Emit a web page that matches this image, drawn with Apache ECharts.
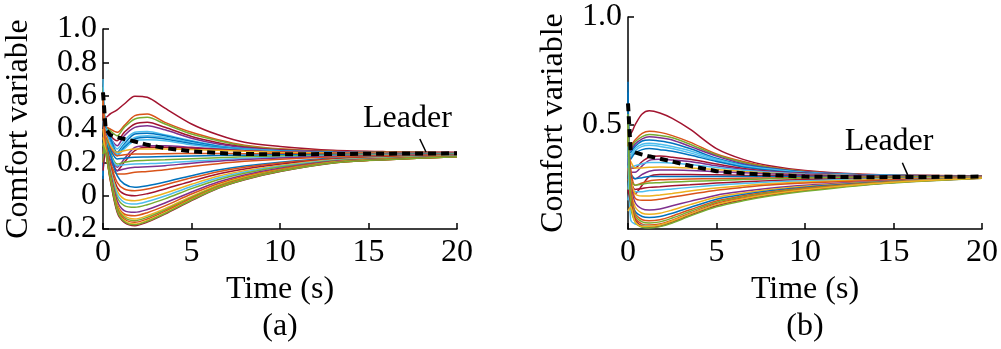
<!DOCTYPE html>
<html><head><meta charset="utf-8">
<script src="https://cdn.jsdelivr.net/npm/echarts@6/dist/echarts.min.js"></script>
<style>html,body{margin:0;padding:0;background:#fff}#c{width:1001px;height:349px}</style>
</head><body><div id="c"></div>
<script>
// time samples (s), shared by both panels
const timeGrid = [0, 0.15, 0.4, 0.8, 1.2, 1.8, 2.5, 3.5, 5, 6.5, 8, 10, 13, 16, 20];

// ---- panel (a) ----
const leaderA = [0.62, 0.40, 0.365, 0.35, 0.34, 0.325, 0.305, 0.285, 0.266, 0.256, 0.25, 0.248, 0.25, 0.252, 0.254];
const followersA = [
  [0.47, 0.47, 0.49, 0.515, 0.55, 0.597, 0.59, 0.525, 0.43, 0.365, 0.32, 0.295, 0.272, 0.264, 0.26],
  [0.60, 0.42, 0.40, 0.38, 0.42, 0.48, 0.49, 0.44, 0.38, 0.336, 0.303, 0.281, 0.267, 0.261, 0.257],
  [0.65, 0.41, 0.39, 0.36, 0.41, 0.46, 0.47, 0.43, 0.37, 0.33, 0.298, 0.279, 0.265, 0.26, 0.257],
  [0.55, 0.40, 0.36, 0.33, 0.38, 0.43, 0.44, 0.41, 0.355, 0.318, 0.292, 0.275, 0.263, 0.259, 0.256],
  [0.50, 0.40, 0.35, 0.30, 0.36, 0.41, 0.42, 0.395, 0.345, 0.31, 0.288, 0.272, 0.262, 0.258, 0.256],
  [0.70, 0.42, 0.36, 0.28, 0.33, 0.38, 0.385, 0.365, 0.33, 0.30, 0.282, 0.27, 0.261, 0.258, 0.256],
  [0.62, 0.41, 0.35, 0.26, 0.31, 0.37, 0.375, 0.36, 0.325, 0.297, 0.28, 0.268, 0.26, 0.257, 0.255],
  [0.40, 0.40, 0.33, 0.25, 0.30, 0.35, 0.36, 0.35, 0.318, 0.293, 0.278, 0.267, 0.259, 0.257, 0.255],
  [0.30, 0.39, 0.33, 0.24, 0.29, 0.34, 0.35, 0.34, 0.312, 0.29, 0.276, 0.266, 0.259, 0.256, 0.255],
  [0.20, 0.38, 0.32, 0.24, 0.28, 0.33, 0.335, 0.33, 0.305, 0.286, 0.274, 0.265, 0.258, 0.256, 0.255],
  [0.35, 0.37, 0.27, 0.17, 0.22, 0.29, 0.30, 0.30, 0.29, 0.28, 0.27, 0.263, 0.257, 0.255, 0.254],
  [0.45, 0.36, 0.26, 0.15, 0.20, 0.27, 0.29, 0.29, 0.285, 0.277, 0.269, 0.262, 0.257, 0.255, 0.254],
  [0.30, 0.36, 0.30, 0.26, 0.27, 0.28, 0.28, 0.28, 0.277, 0.272, 0.266, 0.261, 0.256, 0.254, 0.253],
  [0.25, 0.35, 0.29, 0.24, 0.245, 0.25, 0.25, 0.252, 0.253, 0.253, 0.252, 0.252, 0.251, 0.25, 0.25],
  [0.15, 0.34, 0.28, 0.22, 0.225, 0.23, 0.232, 0.235, 0.238, 0.241, 0.243, 0.245, 0.247, 0.249, 0.25],
  [0.30, 0.34, 0.26, 0.19, 0.20, 0.21, 0.212, 0.215, 0.222, 0.228, 0.233, 0.238, 0.243, 0.246, 0.248],
  [0.12, 0.33, 0.25, 0.18, 0.185, 0.19, 0.192, 0.196, 0.207, 0.216, 0.224, 0.231, 0.239, 0.243, 0.247],
  [0.40, 0.32, 0.22, 0.15, 0.16, 0.17, 0.173, 0.18, 0.195, 0.207, 0.217, 0.226, 0.236, 0.241, 0.246],
  [0.20, 0.31, 0.20, 0.13, 0.13, 0.14, 0.145, 0.155, 0.175, 0.192, 0.206, 0.219, 0.232, 0.239, 0.245],
  [0.10, 0.32, 0.25, 0.12, 0.07, 0.05, 0.06, 0.082, 0.12, 0.154, 0.178, 0.201, 0.225, 0.234, 0.242],
  [0.55, 0.32, 0.20, 0.08, 0.04, 0.03, 0.04, 0.065, 0.107, 0.144, 0.171, 0.196, 0.222, 0.232, 0.241],
  [0.35, 0.31, 0.18, 0.05, 0.01, 0.0, 0.012, 0.04, 0.087, 0.13, 0.16, 0.189, 0.218, 0.23, 0.24],
  [0.60, 0.31, 0.17, 0.03, -0.02, -0.03, -0.016, 0.015, 0.068, 0.116, 0.149, 0.181, 0.215, 0.228, 0.239],
  [0.45, 0.30, 0.16, 0.01, -0.04, -0.05, -0.035, -0.002, 0.055, 0.106, 0.142, 0.176, 0.212, 0.226, 0.238],
  [0.25, 0.30, 0.15, -0.01, -0.06, -0.07, -0.054, -0.019, 0.042, 0.096, 0.135, 0.172, 0.21, 0.224, 0.237],
  [0.30, 0.29, 0.14, -0.03, -0.09, -0.10, -0.083, -0.044, 0.022, 0.082, 0.124, 0.164, 0.206, 0.222, 0.236],
  [0.50, 0.29, 0.13, -0.05, -0.11, -0.12, -0.102, -0.061, 0.01, 0.072, 0.117, 0.159, 0.203, 0.22, 0.235],
  [0.40, 0.28, 0.12, -0.06, -0.12, -0.14, -0.12, -0.078, -0.004, 0.063, 0.11, 0.154, 0.201, 0.219, 0.234],
  [0.20, 0.28, 0.12, -0.07, -0.13, -0.15, -0.13, -0.086, -0.01, 0.058, 0.106, 0.152, 0.20, 0.218, 0.234],
  [0.62, 0.27, 0.11, -0.08, -0.14, -0.16, -0.14, -0.094, -0.017, 0.053, 0.102, 0.15, 0.198, 0.217, 0.234],
  [0.35, 0.27, 0.10, -0.09, -0.15, -0.17, -0.149, -0.103, -0.023, 0.048, 0.099, 0.147, 0.197, 0.216, 0.233],
  [0.15, 0.26, 0.10, -0.10, -0.16, -0.18, -0.159, -0.111, -0.03, 0.044, 0.095, 0.145, 0.196, 0.216, 0.233],
  [0.30, 0.26, 0.11, -0.09, -0.155, -0.175, -0.154, -0.107, -0.026, 0.046, 0.097, 0.146, 0.196, 0.216, 0.233]
];

// ---- panel (b) ----
const leaderB = [0.6, 0.38, 0.372, 0.362, 0.354, 0.343, 0.33, 0.31, 0.285, 0.275, 0.268, 0.26, 0.257, 0.258, 0.26];
const followersB = [
  [0.47, 0.46, 0.50, 0.55, 0.565, 0.555, 0.53, 0.48, 0.39, 0.34, 0.31, 0.288, 0.272, 0.266, 0.263],
  [0.60, 0.40, 0.43, 0.46, 0.47, 0.465, 0.45, 0.42, 0.365, 0.33, 0.305, 0.285, 0.271, 0.266, 0.263],
  [0.55, 0.39, 0.42, 0.445, 0.455, 0.45, 0.44, 0.41, 0.36, 0.325, 0.302, 0.283, 0.27, 0.265, 0.263],
  [0.50, 0.38, 0.41, 0.435, 0.445, 0.44, 0.43, 0.40, 0.355, 0.32, 0.30, 0.282, 0.27, 0.265, 0.262],
  [0.65, 0.37, 0.40, 0.425, 0.43, 0.425, 0.415, 0.39, 0.345, 0.315, 0.297, 0.28, 0.269, 0.265, 0.262],
  [0.40, 0.36, 0.39, 0.41, 0.415, 0.41, 0.40, 0.38, 0.34, 0.312, 0.295, 0.279, 0.268, 0.264, 0.262],
  [0.30, 0.35, 0.38, 0.40, 0.405, 0.40, 0.39, 0.37, 0.335, 0.308, 0.292, 0.278, 0.268, 0.264, 0.262],
  [0.70, 0.34, 0.37, 0.385, 0.39, 0.385, 0.378, 0.36, 0.33, 0.305, 0.29, 0.277, 0.267, 0.264, 0.262],
  [0.45, 0.30, 0.30, 0.33, 0.35, 0.355, 0.35, 0.34, 0.318, 0.298, 0.285, 0.275, 0.266, 0.263, 0.262],
  [0.35, 0.28, 0.28, 0.31, 0.335, 0.34, 0.337, 0.33, 0.31, 0.293, 0.282, 0.273, 0.265, 0.263, 0.261],
  [0.20, 0.30, 0.31, 0.32, 0.325, 0.325, 0.322, 0.316, 0.302, 0.289, 0.28, 0.272, 0.265, 0.262, 0.261],
  [0.35, 0.33, 0.30, 0.30, 0.303, 0.305, 0.303, 0.30, 0.293, 0.284, 0.277, 0.27, 0.264, 0.262, 0.261],
  [0.30, 0.26, 0.25, 0.27, 0.285, 0.29, 0.29, 0.288, 0.283, 0.278, 0.273, 0.268, 0.263, 0.262, 0.261],
  [0.45, 0.25, 0.18, 0.22, 0.26, 0.27, 0.27, 0.27, 0.268, 0.266, 0.265, 0.263, 0.262, 0.261, 0.26],
  [0.25, 0.27, 0.25, 0.255, 0.26, 0.26, 0.26, 0.26, 0.26, 0.26, 0.26, 0.26, 0.26, 0.26, 0.26],
  [0.50, 0.30, 0.22, 0.23, 0.24, 0.245, 0.247, 0.249, 0.25, 0.252, 0.254, 0.256, 0.258, 0.259, 0.26],
  [0.20, 0.24, 0.22, 0.225, 0.23, 0.232, 0.235, 0.238, 0.242, 0.246, 0.25, 0.253, 0.256, 0.258, 0.259],
  [0.40, 0.26, 0.20, 0.205, 0.21, 0.213, 0.217, 0.222, 0.23, 0.236, 0.241, 0.246, 0.251, 0.254, 0.258],
  [0.15, 0.22, 0.19, 0.19, 0.195, 0.198, 0.203, 0.21, 0.22, 0.228, 0.235, 0.241, 0.248, 0.252, 0.257],
  [0.30, 0.25, 0.18, 0.17, 0.17, 0.175, 0.182, 0.193, 0.207, 0.218, 0.227, 0.235, 0.244, 0.25, 0.257],
  [0.55, 0.24, 0.16, 0.15, 0.15, 0.155, 0.165, 0.178, 0.197, 0.21, 0.221, 0.23, 0.24, 0.248, 0.256],
  [0.35, 0.22, 0.14, 0.11, 0.105, 0.11, 0.125, 0.145, 0.174, 0.192, 0.206, 0.22, 0.234, 0.245, 0.256],
  [0.50, 0.21, 0.12, 0.09, 0.085, 0.09, 0.105, 0.13, 0.164, 0.184, 0.20, 0.215, 0.231, 0.243, 0.255],
  [0.60, 0.18, 0.10, 0.075, 0.07, 0.075, 0.09, 0.117, 0.155, 0.177, 0.194, 0.211, 0.229, 0.242, 0.255],
  [0.25, 0.20, 0.09, 0.06, 0.055, 0.06, 0.077, 0.106, 0.147, 0.171, 0.189, 0.207, 0.227, 0.241, 0.254],
  [0.45, 0.17, 0.08, 0.05, 0.045, 0.05, 0.068, 0.098, 0.141, 0.166, 0.185, 0.204, 0.225, 0.24, 0.254],
  [0.30, 0.15, 0.07, 0.04, 0.035, 0.04, 0.058, 0.09, 0.135, 0.161, 0.181, 0.201, 0.223, 0.239, 0.253],
  [0.40, 0.06, 0.04, 0.035, 0.03, 0.035, 0.052, 0.085, 0.128, 0.155, 0.176, 0.197, 0.221, 0.238, 0.253],
  [0.20, 0.14, 0.06, 0.03, 0.025, 0.03, 0.048, 0.081, 0.125, 0.152, 0.173, 0.195, 0.22, 0.237, 0.252],
  [0.55, 0.13, 0.05, 0.025, 0.022, 0.028, 0.045, 0.077, 0.12, 0.148, 0.17, 0.192, 0.218, 0.236, 0.252],
  [0.10, 0.12, 0.05, 0.03, 0.03, 0.036, 0.054, 0.086, 0.13, 0.157, 0.178, 0.199, 0.222, 0.238, 0.253]
];

// axis ticks
const xTicks = [0, 5, 10, 15, 20];
const yTicksA = [-0.2, 0, 0.2, 0.4, 0.6, 0.8, 1.0];
const yTicksB = [0.5, 1.0];

// annotation anchors (data coords): label centre, pointer start, pointer end
const leaderNoteA = [[17.2, 0.46], [17.9, 0.34], [18.25, 0.262]];
const leaderNoteB = [[14.75, 0.421], [15.5, 0.324], [15.8, 0.268]];

// MATLAB default line colours
const C = {b:'#0072BD', o:'#D95319', y:'#EDB120', p:'#7E2F8E', g:'#77AC30', c:'#4DBEEE', r:'#A2142F'};
const colorsA = ['r','o','g','r','p','c','b','c','b','c','p','r','y','o','b','g','c','p','o','b','o','r','y','c','g','p','o','y','g','o','y','r','g'].map(k=>C[k]);
const colorsB = ['r','o','g','p','b','c','c','b','r','p','c','y','p','r','b','o','g','r','c','y','o','p','y','b','o','g','o','c','r','g','y'].map(k=>C[k]);

const FONT = '"Liberation Serif", "Times New Roman", serif';
const chart = echarts.init(document.getElementById('c'), null, {renderer:'canvas'});

function axisCommon() {
  return {
    axisLine: {show:true, onZero:false, lineStyle:{color:'#000', width:1.5}},
    axisTick: {show:true, inside:true, length:6, lineStyle:{color:'#000', width:1.5}},
    splitLine: {show:false},
    axisLabel: {color:'#000', fontFamily:FONT, fontSize:32},
    nameTextStyle: {color:'#000', fontFamily:FONT, fontSize:32},
    nameLocation: 'middle'
  };
}

const series = [];
function addPanel(idx, followers, colors, leader) {
  followers.forEach((vals, i) => {
    series.push({
      type:'line', xAxisIndex:idx, yAxisIndex:idx, silent:true,
      data: timeGrid.map((t,k)=>[t, vals[k]]),
      showSymbol:false, symbol:'none', smooth:0.3,
      lineStyle:{width:1.5, color:colors[i]}, z:2
    });
  });
  series.push({
    type:'line', xAxisIndex:idx, yAxisIndex:idx, silent:true,
    data: timeGrid.map((t,k)=>[t, leader[k]]),
    showSymbol:false, symbol:'none', smooth:false,
    lineStyle:{width:4, color:'#000', type:[8,5]}, z:5
  });
}
addPanel(0, followersA, colorsA, leaderA);
addPanel(1, followersB, colorsB, leaderB);

const xA = Object.assign(axisCommon(), {type:'value', gridIndex:0, min:0, max:20, interval:5, name:'Time (s)', nameGap:44});
xA.axisLabel = Object.assign({}, xA.axisLabel, {margin:8});
const xB = Object.assign(axisCommon(), {type:'value', gridIndex:1, min:0, max:20, interval:5, name:'Time (s)', nameGap:44});
xB.axisLabel = Object.assign({}, xB.axisLabel, {margin:8});

const yA = Object.assign(axisCommon(), {type:'value', gridIndex:0, min:-0.2, max:1.0, interval:0.2, name:'Comfort variable', nameGap:68});
yA.axisLabel = Object.assign({}, yA.axisLabel, {margin:6, formatter: v => Math.abs(v) < 1e-9 ? '0' : v.toFixed(1)});
const yB = Object.assign(axisCommon(), {type:'value', gridIndex:1, min:0.017, max:1.0, name:'Comfort variable', nameGap:58});
yB.axisLabel = Object.assign({}, yB.axisLabel, {margin:6, customValues:yTicksB, formatter: v => v.toFixed(1)});
yB.axisTick = Object.assign({}, yB.axisTick, {customValues:yTicksB});

chart.setOption({
  animation:false,
  backgroundColor:'#fff',
  grid:[
    {left:103, top:29, width:354, height:200, containLabel:false},
    {left:628, top:17, width:354, height:212, containLabel:false}
  ],
  xAxis:[xA, xB],
  yAxis:[yA, yB],
  series: series
});

function note(gridIndex, anchors) {
  const p0 = chart.convertToPixel({gridIndex}, anchors[0]);
  const p1 = chart.convertToPixel({gridIndex}, anchors[1]);
  const p2 = chart.convertToPixel({gridIndex}, anchors[2]);
  return [
    {type:'text', x:p0[0], y:p0[1], z:20, style:{text:'Leader', fill:'#000', font:'32px ' + FONT, textAlign:'center', textVerticalAlign:'middle'}},
    {type:'line', z:20, shape:{x1:p1[0], y1:p1[1], x2:p2[0], y2:p2[1]}, style:{stroke:'#000', lineWidth:1.5}}
  ];
}
const g = [].concat(note(0, leaderNoteA), note(1, leaderNoteB));
g.push({type:'text', x:280, y:327, style:{text:'(a)', fill:'#000', font:'32px ' + FONT, textAlign:'center', textVerticalAlign:'middle'}});
g.push({type:'text', x:805, y:327, style:{text:'(b)', fill:'#000', font:'32px ' + FONT, textAlign:'center', textVerticalAlign:'middle'}});
chart.setOption({graphic: g});
</script>
</body></html>
